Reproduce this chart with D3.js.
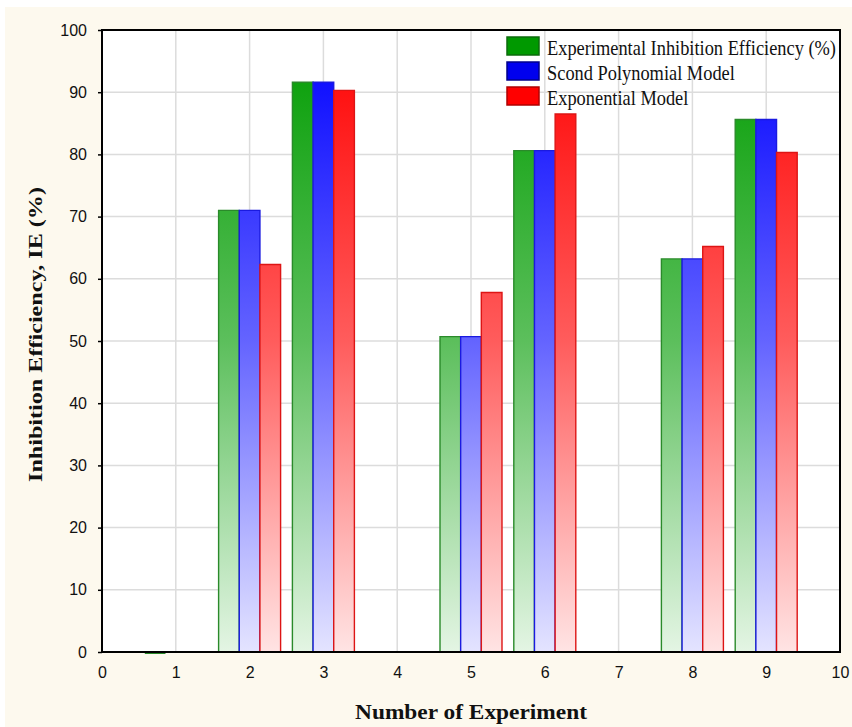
<!DOCTYPE html>
<html><head><meta charset="utf-8">
<script src="https://cdn.jsdelivr.net/npm/d3@7"></script>
<style>body{margin:0;background:#fff}svg{display:block}</style>
</head><body>
<svg id="c" width="852" height="727"></svg>
<script>
// ---- data ----
const experiments = [1, 2, 3, 5, 6, 8, 9];
const experimental = [0, 71.0, 91.6, 50.7, 80.6, 63.2, 85.6];
const polynomial = [null, 71.0, 91.6, 50.7, 80.6, 63.2, 85.6];
const exponential = [null, 62.3, 90.3, 57.8, 86.5, 65.2, 80.3];
const seriesNames = ["Experimental Inhibition Efficiency (%)", "Scond Polynomial Model", "Exponential Model"];
const xTicks = [0, 1, 2, 3, 4, 5, 6, 7, 8, 9, 10];
const yTicks = [0, 10, 20, 30, 40, 50, 60, 70, 80, 90, 100];
const xTitle = "Number of Experiment";
const yTitle = "Inhibition Efficiency, IE (%)";

// ---- layout ----
const W = 852, H = 727;
const L = 102, R = 840, T = 30, B = 652;
const svg = d3.select("#c");
const x = d3.scaleLinear().domain([0, 10]).range([L, R]);
const y = d3.scaleLinear().domain([0, 100]).range([B, T]);

const styles = [
  {id: "gG", top: "#009c00", mid: "#5cbf5c", bot: "#e4f5e4", stroke: "#2a8a2a", sw: "#009900", swStroke: "#0b6b0b"},
  {id: "gB", top: "#0000ff", mid: "#6464ff", bot: "#e4e4ff", stroke: "#1a1ae0", sw: "#0000ee", swStroke: "#00008a"},
  {id: "gR", top: "#ff0000", mid: "#ff5c5c", bot: "#ffe4e4", stroke: "#dd1515", sw: "#ff0000", swStroke: "#b00000"}
];
const seriesData = [experimental, polynomial, exponential];

// background
svg.append("rect").attr("x", 0).attr("y", 0).attr("width", W).attr("height", H).attr("fill", "#ffffff");
svg.append("rect").attr("x", 5).attr("y", 7).attr("width", W - 5).attr("height", H - 7).attr("fill", "#fdf9ee");
svg.append("rect").attr("x", L).attr("y", T).attr("width", R - L).attr("height", B - T).attr("fill", "#ffffff");

// gradients
const defs = svg.append("defs");
styles.forEach(s => {
  const g = defs.append("linearGradient").attr("id", s.id)
    .attr("gradientUnits", "userSpaceOnUse")
    .attr("x1", 0).attr("x2", 0).attr("y1", y(100)).attr("y2", y(0));
  g.append("stop").attr("offset", "0%").attr("stop-color", s.top);
  g.append("stop").attr("offset", "50%").attr("stop-color", s.mid);
  g.append("stop").attr("offset", "100%").attr("stop-color", s.bot);
});

// grid
svg.append("g").selectAll("line").data(yTicks.filter(d => d > 0 && d < 100)).join("line")
  .attr("x1", L).attr("x2", R).attr("y1", d => y(d)).attr("y2", d => y(d))
  .attr("stroke", "#dcdcdc").attr("stroke-width", 1.5);
svg.append("g").selectAll("line").data(xTicks.filter(d => d > 0 && d < 10)).join("line")
  .attr("y1", T).attr("y2", B).attr("x1", d => x(d)).attr("x2", d => x(d))
  .attr("stroke", "#dcdcdc").attr("stroke-width", 1.5);

// bars
const bw = 0.28; // bar width in x units
seriesData.forEach((vals, si) => {
  const s = styles[si];
  const pts = experiments.map((e, i) => ({e, v: vals[i]})).filter(d => d.v != null);
  svg.append("g").selectAll("path").data(pts).join("path")
    .attr("d", d => {
      const x0 = x(d.e + (si - 1.5) * bw), x1 = x(d.e + (si - 0.5) * bw);
      const y0 = y(0) + (d.v === 0 ? 1.2 : 0);
      const p = d3.path();
      p.moveTo(x0, y0); p.lineTo(x0, y(d.v) + (d.v === 0 ? 1.2 : 0)); p.lineTo(x1, y(d.v) + (d.v === 0 ? 1.2 : 0)); p.lineTo(x1, y0); p.closePath();
      return p.toString();
    })
    .attr("fill", `url(#${s.id})`)
    .attr("stroke", s.stroke).attr("stroke-width", 1.4);
});

// frame
svg.append("rect").attr("x", L).attr("y", T).attr("width", R - L).attr("height", B - T)
  .attr("fill", "none").attr("stroke", "#000").attr("stroke-width", 2);

// axes
const yAxis = svg.append("g").attr("transform", `translate(${L},0)`)
  .call(d3.axisLeft(y).tickValues(yTicks).tickSize(4).tickPadding(11));
yAxis.select(".domain").remove();
yAxis.selectAll("line").attr("stroke", "#000").attr("stroke-width", 1.5);
yAxis.selectAll("text").attr("font-family", "'Liberation Sans', Arial, sans-serif").attr("font-size", 16).attr("fill", "#111");

const xAxis = svg.append("g").attr("transform", `translate(0,${B})`)
  .call(d3.axisBottom(x).tickValues(xTicks).tickSize(0).tickPadding(14.6));
xAxis.select(".domain").remove();
xAxis.selectAll("text").attr("font-family", "'Liberation Sans', Arial, sans-serif").attr("font-size", 16).attr("fill", "#111");

// titles
svg.append("text").attr("x", (L + R) / 2).attr("y", 719)
  .attr("text-anchor", "middle").attr("font-family", "'Liberation Serif', 'Times New Roman', serif")
  .attr("font-weight", "bold").attr("font-size", 22).attr("fill", "#111")
  .attr("textLength", 232).attr("lengthAdjust", "spacingAndGlyphs")
  .text(xTitle);
svg.append("text").attr("transform", `translate(41.5,${334.5}) rotate(-90)`)
  .attr("text-anchor", "middle").attr("font-family", "'Liberation Serif', 'Times New Roman', serif")
  .attr("font-weight", "bold").attr("font-size", 18).attr("fill", "#111")
  .attr("textLength", 295).attr("lengthAdjust", "spacingAndGlyphs")
  .text(yTitle);

// legend
const lg = svg.append("g").attr("transform", "translate(507,37)");
seriesNames.forEach((n, i) => {
  const s = styles[i];
  lg.append("rect").attr("x", 0).attr("y", i * 25).attr("width", 32).attr("height", 18)
    .attr("fill", s.sw).attr("stroke", s.swStroke).attr("stroke-width", 1.5);
  const t = lg.append("text").attr("x", 40).attr("y", i * 25 + 18)
    .attr("font-family", "'Liberation Serif', 'Times New Roman', serif")
    .attr("font-size", 21).attr("fill", "#111").text(n);
  const len = t.node().getComputedTextLength();
  t.attr("textLength", len * 0.875).attr("lengthAdjust", "spacingAndGlyphs");
});
</script>
</body></html>
